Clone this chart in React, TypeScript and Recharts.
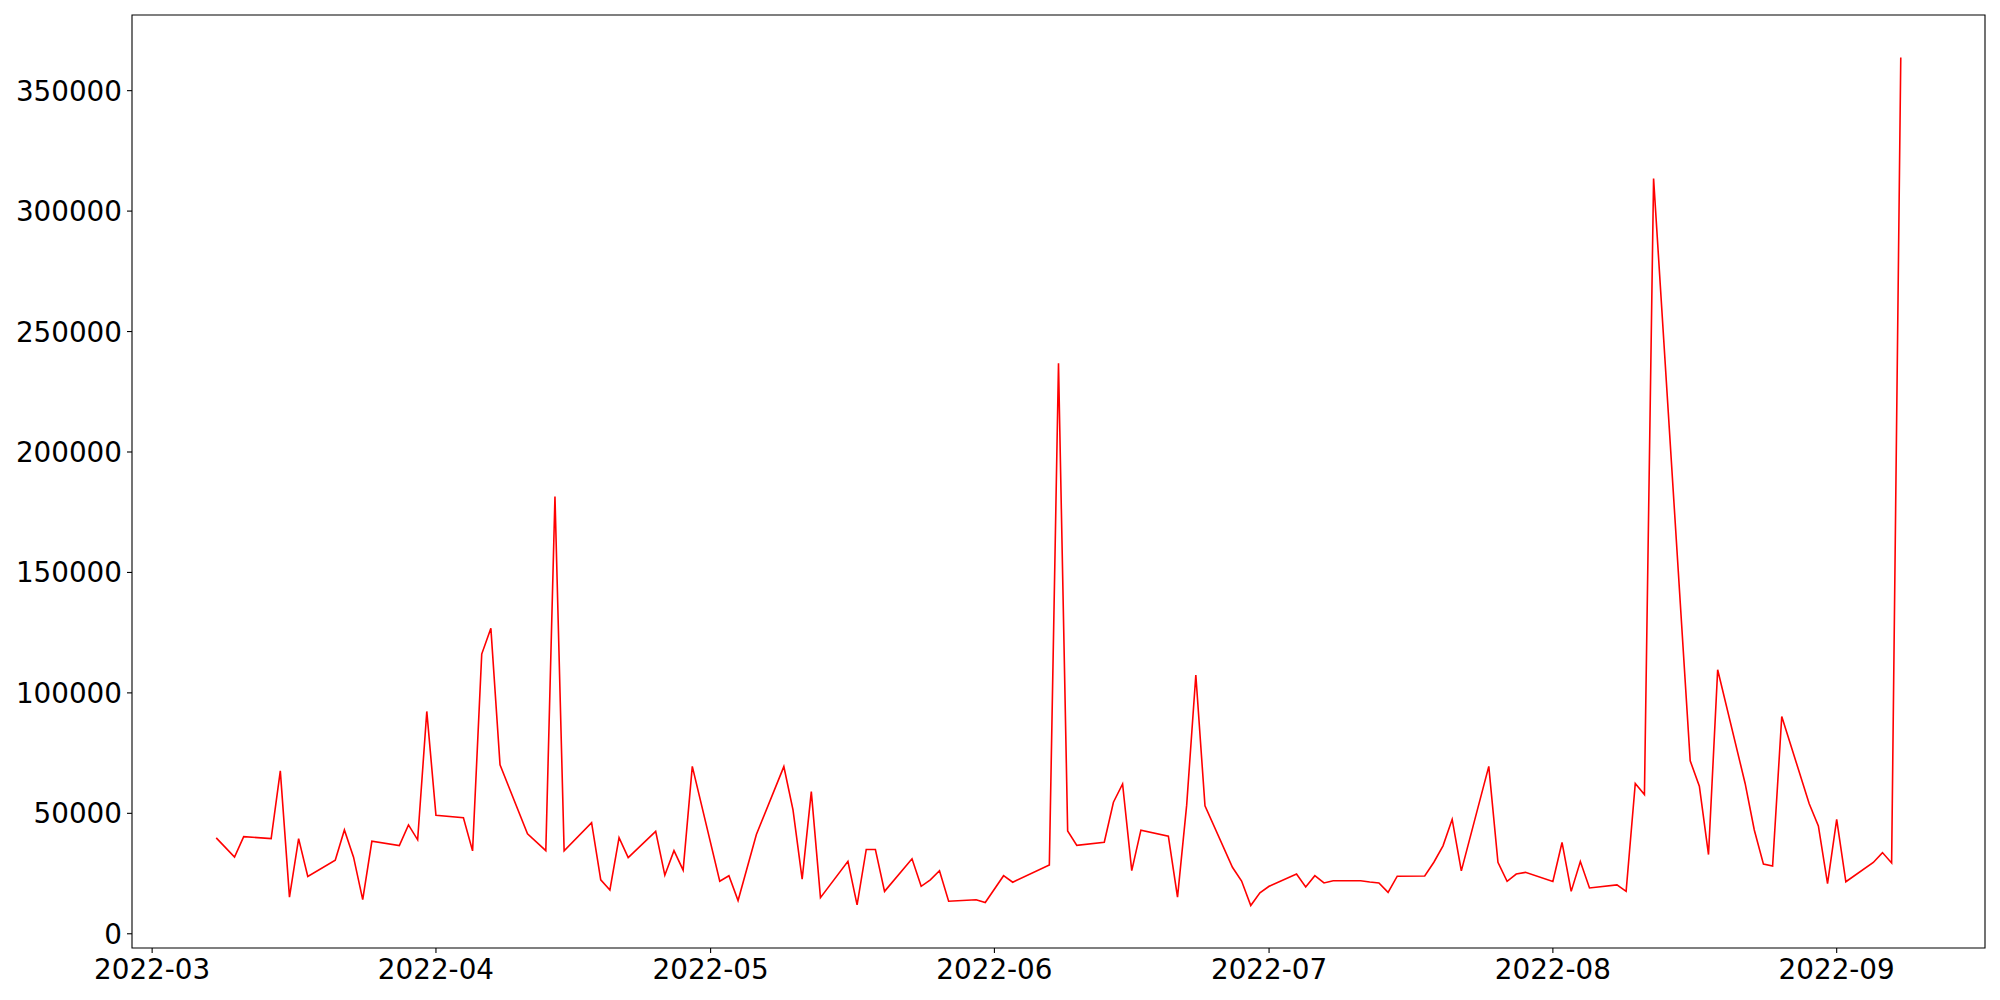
import React from 'react';
import { LineChart, Line, XAxis, YAxis, ReferenceArea } from 'recharts';

// daily values (weekdays only, some missing)
const dates = [
  '2022-03-08', '2022-03-10', '2022-03-11', '2022-03-14', '2022-03-15', '2022-03-16', '2022-03-17', '2022-03-18',
  '2022-03-21', '2022-03-22', '2022-03-23', '2022-03-24', '2022-03-25', '2022-03-28', '2022-03-29', '2022-03-30',
  '2022-03-31', '2022-04-01', '2022-04-04', '2022-04-05', '2022-04-06', '2022-04-07', '2022-04-08', '2022-04-11',
  '2022-04-13', '2022-04-14', '2022-04-15', '2022-04-18', '2022-04-19', '2022-04-20', '2022-04-21', '2022-04-22',
  '2022-04-25', '2022-04-26', '2022-04-27', '2022-04-28', '2022-04-29', '2022-05-02', '2022-05-03', '2022-05-04',
  '2022-05-06', '2022-05-09', '2022-05-10', '2022-05-11', '2022-05-12', '2022-05-13', '2022-05-16', '2022-05-17',
  '2022-05-18', '2022-05-19', '2022-05-20', '2022-05-23', '2022-05-24', '2022-05-25', '2022-05-26', '2022-05-27',
  '2022-05-30', '2022-05-31', '2022-06-02', '2022-06-03', '2022-06-07', '2022-06-08', '2022-06-09', '2022-06-10',
  '2022-06-13', '2022-06-14', '2022-06-15', '2022-06-16', '2022-06-17', '2022-06-20', '2022-06-21', '2022-06-22',
  '2022-06-23', '2022-06-24', '2022-06-27', '2022-06-28', '2022-06-29', '2022-06-30', '2022-07-01', '2022-07-04',
  '2022-07-05', '2022-07-06', '2022-07-07', '2022-07-08', '2022-07-11', '2022-07-12', '2022-07-13', '2022-07-14',
  '2022-07-15', '2022-07-18', '2022-07-19', '2022-07-20', '2022-07-21', '2022-07-22', '2022-07-25', '2022-07-26',
  '2022-07-27', '2022-07-28', '2022-07-29', '2022-08-01', '2022-08-02', '2022-08-03', '2022-08-04', '2022-08-05',
  '2022-08-08', '2022-08-09', '2022-08-10', '2022-08-11', '2022-08-12', '2022-08-16', '2022-08-17', '2022-08-18',
  '2022-08-19', '2022-08-22', '2022-08-23', '2022-08-24', '2022-08-25', '2022-08-26', '2022-08-29', '2022-08-30',
  '2022-08-31', '2022-09-01', '2022-09-02', '2022-09-05', '2022-09-06', '2022-09-07', '2022-09-08',
];

const volumes = [
  39800, 31800, 40300, 39500, 67600, 15200, 39500, 23800,
  30500, 43100, 31800, 14200, 38400, 36600, 45200, 39000,
  92300, 49200, 48200, 34400, 116100, 126800, 70100, 41500,
  34500, 181500, 34400, 46100, 22400, 18200, 39900, 31600,
  42500, 24300, 34500, 26400, 69500, 21800, 24100, 13800,
  41200, 69400, 51400, 22700, 59000, 15000, 30100, 12000,
  35000, 35000, 17600, 31100, 19700, 22400, 26200, 13500,
  14100, 13000, 24100, 21400, 28600, 236800, 42700, 36700,
  38000, 54600, 62200, 26200, 43000, 40500, 15200, 53400,
  107400, 53100, 27600, 21900, 11700, 17000, 19700, 24800,
  19400, 24100, 21100, 22000, 22000, 21500, 21100, 17200,
  23900, 24000, 29700, 36500, 47500, 26100, 69500, 29700,
  21800, 24800, 25500, 21700, 37900, 17600, 30000, 19000,
  20300, 17600, 62400, 57800, 313500, 71800, 61300, 32900,
  109600, 62400, 43100, 28900, 28100, 90200, 54000, 44800,
  20800, 47500, 21600, 29600, 33700, 29400, 363800,
];

const monthTicks = ['2022-03-01', '2022-04-01', '2022-05-01', '2022-06-01', '2022-07-01', '2022-08-01', '2022-09-01'];
const monthLabels = ['2022-03', '2022-04', '2022-05', '2022-06', '2022-07', '2022-08', '2022-09'];
const yTicks = [0, 50000, 100000, 150000, 200000, 250000, 300000, 350000];

const toTs = (s: string) => Date.UTC(+s.slice(0, 4), +s.slice(5, 7) - 1, +s.slice(8, 10));

const rows = dates.map((d, i) => ({ t: toTs(d), v: volumes[i] }));

// matplotlib style 5% margins
const tMin = rows[0].t;
const tMax = rows[rows.length - 1].t;
const tPad = (tMax - tMin) * 0.05;
const vMin = Math.min(...volumes);
const vMax = Math.max(...volumes);
const vPad = (vMax - vMin) * 0.05;
const xDomain = [tMin - tPad, tMax + tPad];
const yDomain = [vMin - vPad, vMax + vPad];

const FONT = 'DejaVu Sans';
const FS = 27.8;

const XTick = (props: any) => {
  const { x, y, payload } = props;
  const idx = monthTicks.findIndex(m => toTs(m) === payload.value);
  return (
    <text x={x} y={y + 21} textAnchor="middle" fontFamily={FONT} fontSize={FS} fill="#000">
      {idx >= 0 ? monthLabels[idx] : ''}
    </text>
  );
};

const YTick = (props: any) => {
  const { x, y, payload } = props;
  return (
    <text x={x} y={y + 10} textAnchor="end" fontFamily={FONT} fontSize={FS} fill="#000">
      {payload.value}
    </text>
  );
};

export default function App() {
  return (
    <div style={{ position: 'absolute', left: 0, top: 0, width: 2000, height: 1000, background: '#fff' }}>
      <LineChart width={2000} height={1000} data={rows} margin={{ top: 15, right: 15, left: 0, bottom: 0 }}>
        <XAxis
          dataKey="t"
          type="number"
          domain={xDomain}
          ticks={monthTicks.map(toTs)}
          allowDataOverflow
          height={52}
          axisLine={false}
          tickLine={{ stroke: '#000', strokeWidth: 1.1 }}
          tickSize={5}
          tickMargin={5}
          tick={<XTick />}
        />
        <YAxis
          type="number"
          domain={yDomain}
          ticks={yTicks}
          allowDataOverflow
          width={132}
          axisLine={false}
          tickLine={{ stroke: '#000', strokeWidth: 1.1 }}
          tickSize={5}
          tickMargin={5}
          tick={<YTick />}
        />
        <Line
          type="linear"
          dataKey="v"
          stroke="#ff0000"
          strokeWidth={1.6}
          dot={false}
          activeDot={false}
          isAnimationActive={false}
        />
        <ReferenceArea
          x1={xDomain[0]}
          x2={xDomain[1]}
          y1={yDomain[0]}
          y2={yDomain[1]}
          fill="none"
          stroke="#000"
          strokeWidth={1.1}
          ifOverflow="visible"
        />
      </LineChart>
    </div>
  );
}
